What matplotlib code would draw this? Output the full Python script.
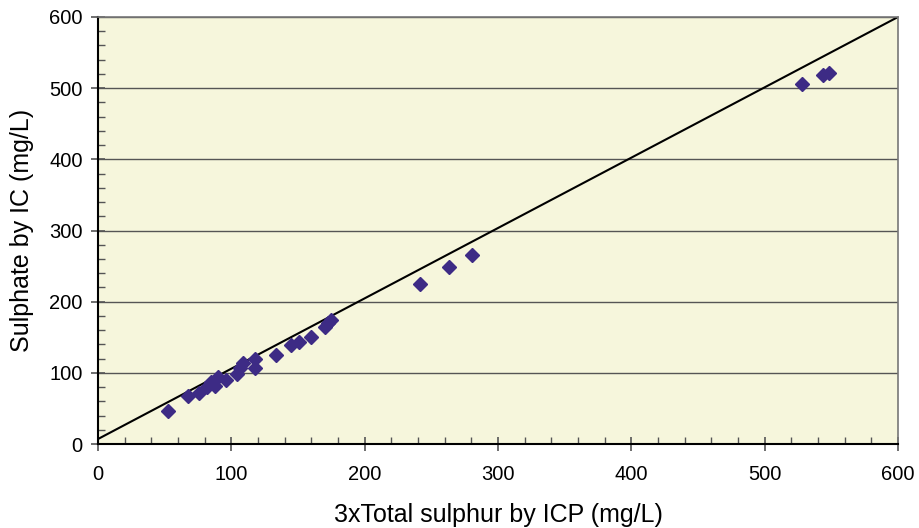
import matplotlib
matplotlib.use("Agg")
import matplotlib.pyplot as plt
from matplotlib.ticker import MultipleLocator

plt.rcParams['font.family'] = ['Liberation Sans', 'DejaVu Sans']

# 3x total sulphur by ICP (mg/L)
icp_sulphur = [52.3, 67.2, 75.7, 81.5, 84.5, 87.8, 90.2, 95.7, 104.0, 106.5,
               109.0, 117.8, 117.8, 133.2, 144.5, 151.0, 159.5, 170.3, 172.7,
               174.5, 241.5, 263.5, 280.8, 528.3, 544.0, 548.5]
# Sulphate by IC (mg/L)
ic_sulphate = [46.4, 67.9, 71.2, 79.6, 87.6, 81.5, 93.7, 90.0, 98.4, 106.3,
               114.3, 119.0, 107.2, 125.0, 139.0, 143.7, 150.0, 164.0, 169.6,
               174.0, 224.8, 248.3, 265.6, 506.3, 518.5, 520.8]

# reference line end points
line_x = [0, 600]
line_y = [7, 600]

fig = plt.figure(figsize=(9.2, 5.28), dpi=100)
ax = fig.add_axes([98 / 920, (528 - 444) / 528, 800 / 920, 427 / 528])
ax.set_facecolor('#f6f6dc')

ax.set_xlim(0, 600)
ax.set_ylim(0, 600)
ax.xaxis.set_major_locator(MultipleLocator(100))
ax.yaxis.set_major_locator(MultipleLocator(100))
ax.xaxis.set_minor_locator(MultipleLocator(20))
ax.yaxis.set_minor_locator(MultipleLocator(20))

ax.grid(axis='y', which='major', color='#555555', linewidth=1.0)
ax.set_axisbelow(True)

ax.plot(line_x, line_y, color='black', linewidth=1.5, zorder=2)
ax.plot(icp_sulphur, ic_sulphate, linestyle='none', marker='D', markersize=7.5,
        color='#3d2b85', markeredgecolor='#3d2b85', zorder=3)

for side in ('left', 'bottom'):
    ax.spines[side].set_color('black')
    ax.spines[side].set_linewidth(1.5)
for side in ('top', 'right'):
    ax.spines[side].set_color('#777777')
    ax.spines[side].set_linewidth(1.2)

ax.tick_params(which='major', direction='inout', length=10, width=1.2,
               color='#555555', labelsize=14.5)
ax.tick_params(axis='x', which='major', pad=10)
ax.tick_params(axis='y', which='major', pad=6)
ax.tick_params(which='minor', direction='in', length=5, width=1.0,
               color='#555555')

ax.set_xlabel('3xTotal sulphur by ICP (mg/L)', fontsize=18)
ax.set_ylabel('Sulphate by IC (mg/L)', fontsize=18)
ax.xaxis.set_label_coords(0.5, -(515 - 444) / 427, transform=ax.transAxes)
ax.yaxis.set_label_coords(-(98 - 22) / 800, 0.5, transform=ax.transAxes)
ax.xaxis.label.set_va('center')
ax.yaxis.label.set_va('center')

fig.savefig('out.png', dpi=100)
